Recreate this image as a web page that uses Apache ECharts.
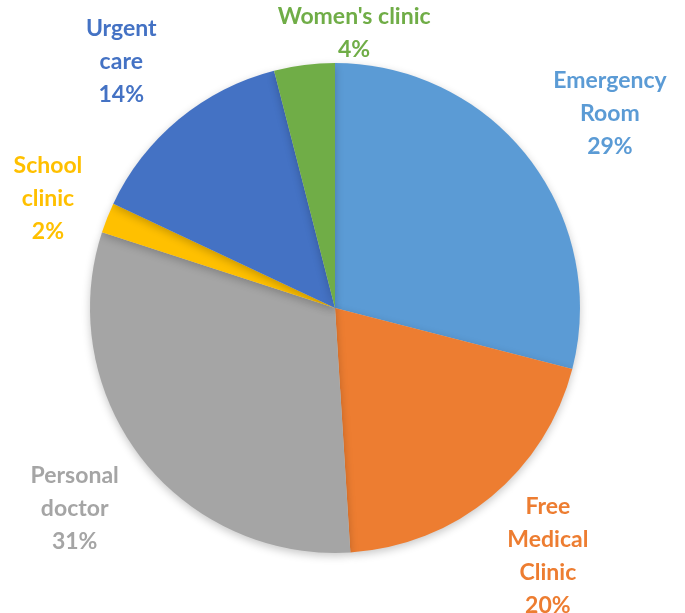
<!DOCTYPE html>
<html>
<head>
<meta charset="utf-8">
<script src="https://cdn.jsdelivr.net/npm/echarts@6/dist/echarts.min.js"></script>
<style>
html,body{margin:0;padding:0;background:#fff;}
#chart{width:685px;height:613px;}
</style>
</head>
<body>
<div id="chart"></div>
<script>
var categories = ["Emergency\nRoom", "Free\nMedical\nClinic", "Personal\ndoctor", "School\nclinic", "Urgent\ncare", "Women's clinic"];
var values = [29, 20, 31, 2, 14, 4];
var colors = ["#5B9BD5", "#ED7D31", "#A5A5A5", "#FFC000", "#4472C4", "#70AD47"];

// label style nudges (px), mimicking the original's label placement
var labelNudgeX = [12, 6, -10, -10, -12, 56];
var labelNudgeY = [10, -2, 6, 0, -3, 0];

var CX = 335, CY = 308, R = 245, GAP = 16;
var total = values.reduce(function(a, b){ return a + b; }, 0);
function midAngle(i){
  var s = 0;
  for (var k = 0; k < i; k++) s += values[k];
  return (s + values[i] / 2) / total * 2 * Math.PI;
}

var chart = echarts.init(document.getElementById('chart'));
chart.setOption({
  animation: false,
  series: [{
    type: 'pie',
    center: [CX, CY],
    radius: R,
    startAngle: 90,
    clockwise: true,
    data: categories.map(function(c, i){
      return {
        name: c, value: values[i],
        itemStyle: { color: colors[i] },
        label: { color: colors[i] }
      };
    }),
    itemStyle: {
      borderWidth: 0,
      shadowBlur: 8,
      shadowColor: 'rgba(0,0,0,0.22)',
      shadowOffsetY: 3
    },
    label: {
      show: true,
      position: 'outside',
      formatter: function(p){ return p.name + '\n' + Math.round(p.percent) + '%'; },
      fontFamily: 'Lato',
      fontWeight: 'bold',
      fontSize: 23,
      lineHeight: 33,
      align: 'center',
      overflow: 'none'
    },
    labelLine: { show: false },
    labelLayout: function(p){
      var a = midAngle(p.dataIndex);
      var ux = Math.sin(a), uy = -Math.cos(a);
      var hw = p.labelRect.width / 2, hh = p.labelRect.height / 2;
      var t = Math.min(Math.abs(ux) > 1e-6 ? hw / Math.abs(ux) : 1e9,
                       Math.abs(uy) > 1e-6 ? hh / Math.abs(uy) : 1e9);
      var d = R + GAP + t;
      var x = CX + ux * d + labelNudgeX[p.dataIndex];
      var y = Math.max(CY + uy * d, hh) + labelNudgeY[p.dataIndex];
      return { x: x, y: y, align: 'center', verticalAlign: 'middle' };
    }
  }]
});
</script>
</body>
</html>
